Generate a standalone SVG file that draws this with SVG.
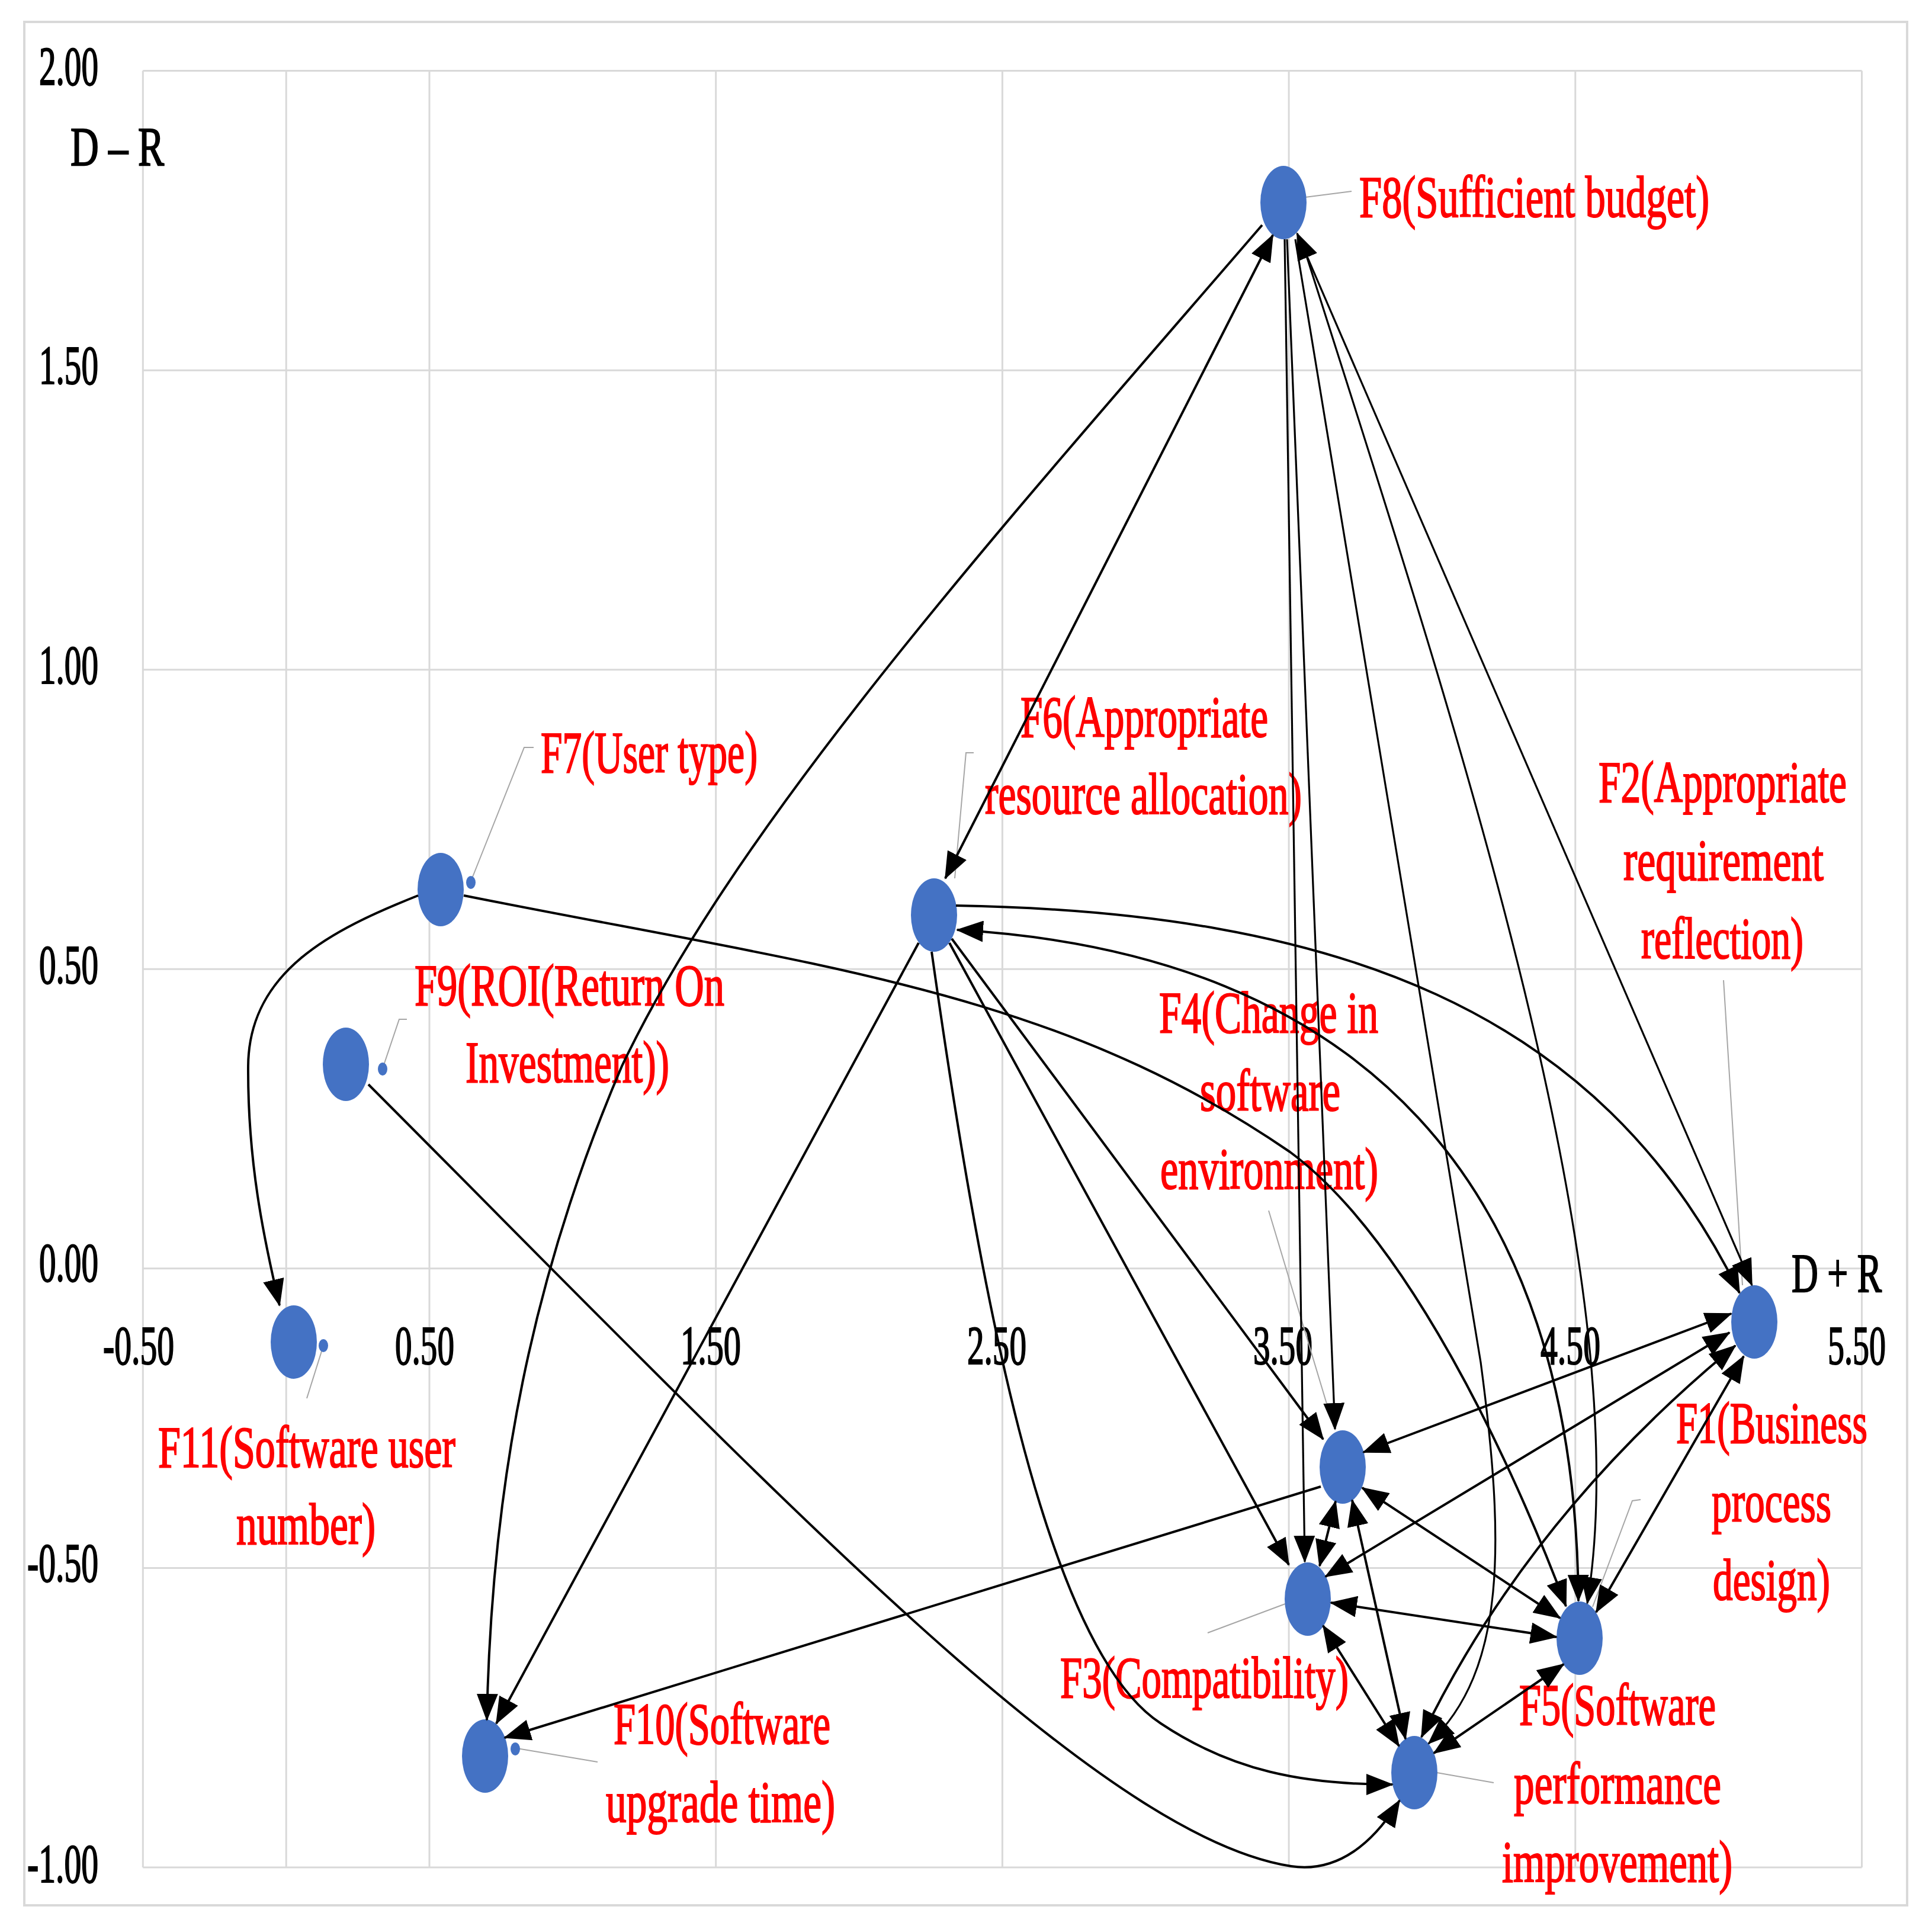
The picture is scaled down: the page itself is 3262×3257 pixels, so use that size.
<svg xmlns="http://www.w3.org/2000/svg" width="3262" height="3257" viewBox="0 0 3262 3257">
<style>
.grid{stroke:#D9D9D9;stroke-width:3;fill:none}
.lead{stroke:#A6A6A6;stroke-width:2;fill:none}
.node{fill:#4472C4}
.lbl{font-family:"Liberation Serif","Times New Roman",serif;font-size:100px;fill:#FF0000;stroke:#FF0000;stroke-width:2.2px}
.ax{font-family:"Liberation Serif","Times New Roman",serif;font-size:94px;fill:#000000;stroke:#000000;stroke-width:2.2px}
.e{fill:none;stroke:#000000;stroke-width:4}
.t{stroke-width:3.2}
.u{marker-end:url(#ah)}
.b{marker-start:url(#ah);marker-end:url(#ah)}
</style>
<defs>
<marker id="ah" viewBox="0 0 46 36" markerWidth="46" markerHeight="36" markerUnits="userSpaceOnUse" refX="44" refY="18" orient="auto-start-reverse"><path d="M0,0 L46,18 L0,36 Z" fill="#000000"/></marker>
</defs>
<rect x="0" y="0" width="3262" height="3257" fill="#FFFFFF"/>
<rect x="41" y="37" width="3179" height="3180" fill="none" stroke="#D9D9D9" stroke-width="4"/>
<g id="grid">
<path class="grid" d="M241.3,119.6V3153M483.2,119.6V3153M725,119.6V3153M1208.7,119.6V3153M1692.4,119.6V3153M2176.1,119.6V3153M2659.8,119.6V3153M3143.5,119.6V3153"/>
<path class="grid" d="M241.3,119.6H3143.5M241.3,625.2H3143.5M241.3,1130.7H3143.5M241.3,1636.3H3143.5M241.3,2141.8H3143.5M241.3,2647.4H3143.5M241.3,3153H3143.5"/>
</g>
<g id="axis-labels">
<text class="ax" x="166" y="143" text-anchor="end" textLength="100" lengthAdjust="spacingAndGlyphs">2.00</text>
<text class="ax" x="166" y="648" text-anchor="end" textLength="100" lengthAdjust="spacingAndGlyphs">1.50</text>
<text class="ax" x="166" y="1154" text-anchor="end" textLength="100" lengthAdjust="spacingAndGlyphs">1.00</text>
<text class="ax" x="166" y="1660" text-anchor="end" textLength="100" lengthAdjust="spacingAndGlyphs">0.50</text>
<text class="ax" x="166" y="2163" text-anchor="end" textLength="100" lengthAdjust="spacingAndGlyphs">0.00</text>
<text class="ax" x="166" y="2670" text-anchor="end" textLength="120" lengthAdjust="spacingAndGlyphs">-0.50</text>
<text class="ax" x="166" y="3178" text-anchor="end" textLength="120" lengthAdjust="spacingAndGlyphs">-1.00</text>
<text class="ax" x="174" y="2303" textLength="120" lengthAdjust="spacingAndGlyphs">-0.50</text>
<text class="ax" x="667" y="2303" textLength="100" lengthAdjust="spacingAndGlyphs">0.50</text>
<text class="ax" x="1149" y="2303" textLength="102" lengthAdjust="spacingAndGlyphs">1.50</text>
<text class="ax" x="1633" y="2303" textLength="100" lengthAdjust="spacingAndGlyphs">2.50</text>
<text class="ax" x="2116" y="2303" textLength="100" lengthAdjust="spacingAndGlyphs">3.50</text>
<text class="ax" x="2601" y="2303" textLength="101" lengthAdjust="spacingAndGlyphs">4.50</text>
<text class="ax" x="3086" y="2303" textLength="98" lengthAdjust="spacingAndGlyphs">5.50</text>
<text class="ax" x="119" y="279" font-size="98" textLength="158" lengthAdjust="spacingAndGlyphs">D – R</text>
<text class="ax" x="3025" y="2181" font-size="98" textLength="152" lengthAdjust="spacingAndGlyphs">D + R</text>
</g>
<g id="F8">
<path class="lead" d="M2204,333L2282,323"/>
<ellipse class="node" cx="2167" cy="342" rx="39" ry="62"/>
<text class="lbl" x="2295" y="366" textLength="591" lengthAdjust="spacingAndGlyphs">F8(Sufficient  budget)</text>
</g>
<g id="F7">
<path class="lead" d="M795,1488L885,1262H901"/>
<ellipse class="node" cx="744" cy="1502" rx="39" ry="62"/>
<ellipse class="node" cx="795" cy="1490" rx="8" ry="11"/>
<text class="lbl" x="913" y="1304" textLength="366" lengthAdjust="spacingAndGlyphs">F7(User type)</text>
</g>
<g id="F9">
<path class="lead" d="M646,1804L674,1721H687"/>
<ellipse class="node" cx="584" cy="1797" rx="39" ry="62"/>
<ellipse class="node" cx="646" cy="1805" rx="8" ry="11"/>
<text class="lbl" x="700" y="1697" textLength="523" lengthAdjust="spacingAndGlyphs">F9(ROI(Return On</text>
<text class="lbl" x="786" y="1827" textLength="344" lengthAdjust="spacingAndGlyphs">Investment))</text>
</g>
<g id="F11">
<path class="lead" d="M546,2272L518,2361"/>
<ellipse class="node" cx="496" cy="2266" rx="39" ry="62"/>
<ellipse class="node" cx="546" cy="2272" rx="8" ry="11"/>
<text class="lbl" x="267" y="2477" textLength="502" lengthAdjust="spacingAndGlyphs">F11(Software user</text>
<text class="lbl" x="399" y="2607" textLength="235" lengthAdjust="spacingAndGlyphs">number)</text>
</g>
<g id="F6">
<path class="lead" d="M1644,1271H1631L1612,1483"/>
<ellipse class="node" cx="1577" cy="1545" rx="39" ry="62"/>
<text class="lbl" x="1723" y="1244" textLength="418" lengthAdjust="spacingAndGlyphs">F6(Appropriate</text>
<text class="lbl" x="1663" y="1374" textLength="535" lengthAdjust="spacingAndGlyphs">resource allocation)</text>
</g>
<g id="F10">
<path class="lead" d="M873,2952L1009,2975"/>
<ellipse class="node" cx="819" cy="2965" rx="39" ry="62"/>
<ellipse class="node" cx="870" cy="2953" rx="8" ry="11"/>
<text class="lbl" x="1036" y="2944" textLength="366" lengthAdjust="spacingAndGlyphs">F10(Software</text>
<text class="lbl" x="1023" y="3076" textLength="387" lengthAdjust="spacingAndGlyphs">upgrade time)</text>
</g>
<g id="F4">
<path class="lead" d="M2142,2044L2252,2410"/>
<ellipse class="node" cx="2267" cy="2477" rx="39" ry="62"/>
<text class="lbl" x="1957" y="1743" textLength="370" lengthAdjust="spacingAndGlyphs">F4(Change in</text>
<text class="lbl" x="2026" y="1875" textLength="237" lengthAdjust="spacingAndGlyphs">software</text>
<text class="lbl" x="1959" y="2007" textLength="368" lengthAdjust="spacingAndGlyphs">environment)</text>
</g>
<g id="F3">
<path class="lead" d="M2170,2708L2039,2757"/>
<ellipse class="node" cx="2208" cy="2700" rx="39" ry="62"/>
<text class="lbl" x="1790" y="2866" textLength="487" lengthAdjust="spacingAndGlyphs">F3(Compatibility)</text>
</g>
<g id="F1">
<path class="lead" d="M2770,2532L2756,2534L2689,2713"/>
<ellipse class="node" cx="2667" cy="2766" rx="39" ry="62"/>
<text class="lbl" x="2830" y="2436" textLength="323" lengthAdjust="spacingAndGlyphs">F1(Business</text>
<text class="lbl" x="2890" y="2569" textLength="202" lengthAdjust="spacingAndGlyphs">process</text>
<text class="lbl" x="2892" y="2701" textLength="198" lengthAdjust="spacingAndGlyphs">design)</text>
</g>
<g id="F2">
<path class="lead" d="M2910,1655L2942,2170"/>
<ellipse class="node" cx="2962" cy="2232" rx="39" ry="62"/>
<text class="lbl" x="2699" y="1354" textLength="419" lengthAdjust="spacingAndGlyphs">F2(Appropriate</text>
<text class="lbl" x="2741" y="1486" textLength="338" lengthAdjust="spacingAndGlyphs">requirement</text>
<text class="lbl" x="2771" y="1618" textLength="274" lengthAdjust="spacingAndGlyphs">reflection)</text>
</g>
<g id="F5">
<path class="lead" d="M2426,2993L2522,3010"/>
<ellipse class="node" cx="2388" cy="2993" rx="39" ry="62"/>
<text class="lbl" x="2565" y="2912" textLength="332" lengthAdjust="spacingAndGlyphs">F5(Software</text>
<text class="lbl" x="2556" y="3045" textLength="350" lengthAdjust="spacingAndGlyphs">performance</text>
<text class="lbl" x="2536" y="3177" textLength="389" lengthAdjust="spacingAndGlyphs">improvement)</text>
</g>
<g id="connectors">
<path class="e u" d="M706,1512C560,1570 420,1640 419,1800C418,1960 445,2090 472,2204"/>
<path class="e u" d="M783,1512C1383,1632 1778,1670 2178,1945C2378,2093 2554,2472 2644,2712"/>
<path class="e u" d="M1614,1529C2250,1540 2700,1700 2937,2183"/>
<path class="e b" d="M1616,1570C2300,1610 2660,2000 2665,2703"/>
<path class="e u" d="M2131,380C1700,880 1250,1380 1050,1800C900,2150 830,2500 822,2904"/>
<path class="e b" d="M1596,1483L2149,397"/>
<path class="e t u" d="M2169,404L2203,2637"/>
<path class="e t u" d="M2173,404L2254,2413"/>
<path class="e t u" d="M2187,404L2500,2300C2540,2600 2545,2820 2412,2944"/>
<path class="e t u" d="M2197,404C2450,1200 2770,2150 2680,2707"/>
<path class="e t b" d="M2190,394L2958,2170"/>
<path class="e u" d="M1607,1585L2234,2430"/>
<path class="e u" d="M1603,1592L2176,2642"/>
<path class="e u" d="M1573,1607C1650,2150 1760,2780 1960,2910C2080,2990 2200,3013 2351,3013"/>
<path class="e u" d="M1551,1592L838,2910"/>
<path class="e u" d="M2230,2510L852,2934"/>
<path class="e u" d="M622,1831C1300,2510 1850,3100 2180,3151C2260,3163 2320,3110 2363,3040"/>
<path class="e b" d="M2302,2452L2923,2218"/>
<path class="e b" d="M2238,2662L2920,2250"/>
<path class="e b" d="M2400,2933Q2580,2560 2930,2272"/>
<path class="e b" d="M2695,2722L2944,2290"/>
<path class="e b" d="M2228,2644L2255,2535"/>
<path class="e b" d="M2300,2512L2634,2732"/>
<path class="e b" d="M2283,2533L2373,2936"/>
<path class="e b" d="M2247,2706L2628,2764"/>
<path class="e b" d="M2234,2745L2362,2948"/>
<path class="e b" d="M2640,2810L2421,2960"/>
</g>
</svg>
